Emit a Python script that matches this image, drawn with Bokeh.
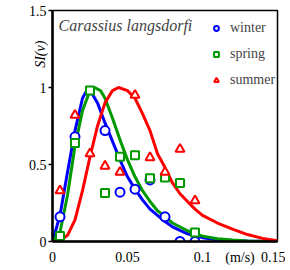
from bokeh.plotting import figure
from bokeh.models import Range1d, FixedTicker, Label, Legend, LegendItem
from bokeh.embed import file_html
from bokeh.resources import INLINE

# observed points (v in m/s)
v_obs = [0.005, 0.015, 0.025, 0.035, 0.045, 0.055, 0.065, 0.075, 0.085, 0.095]
winter_v = [0.005, 0.015, 0.035, 0.045, 0.055, 0.065, 0.075, 0.085, 0.095]
winter_si = [0.16, 0.68, 0.72, 0.32, 0.34, 0.40, 0.16, 0.0, 0.0]
spring_si = [0.035, 0.64, 0.98, 0.315, 0.55, 0.56, 0.41, 0.415, 0.38, 0.058]
summer_si = [0.33, 0.82, 0.57, 0.49, 0.45, 0.95, 0.545, 0.45, 0.60, 0.265]

# fitted curves
wc_v = [0, 0.005, 0.01, 0.015, 0.02, 0.024, 0.03, 0.035, 0.04, 0.045, 0.05, 0.055, 0.06,
        0.065, 0.07, 0.075, 0.08, 0.09, 0.1, 0.11, 0.12, 0.13, 0.15]
wc_si = [0, 0.17, 0.45, 0.72, 0.93, 1.0, 0.90, 0.77, 0.65, 0.53, 0.42, 0.34, 0.27,
         0.21, 0.17, 0.13, 0.095, 0.05, 0.025, 0.012, 0.006, 0.003, 0.0]
sc_v = [0, 0.005, 0.01, 0.015, 0.02, 0.025, 0.028, 0.032, 0.035, 0.04, 0.045, 0.05, 0.055,
        0.06, 0.065, 0.07, 0.075, 0.08, 0.09, 0.1, 0.11, 0.12, 0.13, 0.15]
sc_si = [0, 0.06, 0.30, 0.62, 0.85, 0.98, 1.0, 0.98, 0.93, 0.80, 0.66, 0.53, 0.42,
         0.33, 0.26, 0.20, 0.16, 0.12, 0.07, 0.035, 0.018, 0.009, 0.004, 0.0]
uc_v = [0, 0.005, 0.01, 0.015, 0.02, 0.025, 0.03, 0.035, 0.04, 0.044, 0.05, 0.055, 0.06,
        0.065, 0.07, 0.075, 0.08, 0.085, 0.09, 0.095, 0.1, 0.11, 0.12, 0.13, 0.14, 0.15]
uc_si = [0, 0.005, 0.04, 0.14, 0.33, 0.55, 0.75, 0.90, 0.98, 1.0, 0.98, 0.93, 0.83,
         0.72, 0.57, 0.48, 0.38, 0.31, 0.26, 0.21, 0.17, 0.12, 0.08, 0.045, 0.02, 0.005]

x_ticks = [0, 0.05, 0.1, 0.125, 0.15]
x_labels = {0: "0", 0.05: "0.05", 0.1: "0.1", 0.125: "(m/s)", 0.15: "0.15"}
y_ticks = [0, 0.5, 1, 1.5]
y_labels = {0: "0", 0.5: "0.5", 1: "1", 1.5: "1.5"}
y_title = "SI(v)"

BLUE = "#0000ff"
GREEN = "#009900"
RED = "#ff0000"
SERIF = "Liberation Serif"

p = figure(width=285, height=267, output_backend="svg", toolbar_location=None,
           x_range=Range1d(0, 0.15), y_range=Range1d(0, 1.5),
           min_border_left=52, min_border_right=8, min_border_top=10, min_border_bottom=24)
p.xgrid.visible = False
p.ygrid.visible = False
p.outline_line_color = "black"
p.outline_line_width = 1.5

for ax in (p.xaxis[0], p.yaxis[0]):
    ax.axis_line_width = 2.5
    ax.major_tick_in = 0
    ax.major_tick_line_width = 1.5
    ax.minor_tick_line_color = None
    ax.major_label_text_font = SERIF
    ax.major_label_text_font_size = "14px"
    ax.major_label_text_color = "black"
p.xaxis[0].ticker = FixedTicker(ticks=x_ticks)
p.xaxis[0].major_label_overrides = x_labels
p.xaxis[0].major_tick_out = 0
p.xaxis[0].major_label_standoff = 8
yax = p.yaxis[0]
yax.ticker = FixedTicker(ticks=y_ticks)
yax.major_label_overrides = y_labels
yax.major_tick_out = 4
yax.major_label_standoff = 2
# trailing no-break spaces push the rotated title down from the top end
yax.axis_label = y_title + "\u00a0" * 25
yax.axis_label_text_font = SERIF
yax.axis_label_text_font_style = "italic"
yax.axis_label_text_font_size = "14px"
yax.axis_label_text_color = "black"
yax.axis_label_standoff = -22
yax.axis_label_align = "end"

p.line(wc_v, wc_si, line_color=BLUE, line_width=3)
p.line(sc_v, sc_si, line_color=GREEN, line_width=3)
p.line(uc_v, uc_si, line_color=RED, line_width=3)

rw = p.scatter(winter_v, winter_si, marker="circle", size=9, line_color=BLUE,
               fill_color="white", line_width=2)
rs = p.scatter(v_obs, spring_si, marker="square", size=8, line_color=GREEN,
               fill_color="white", line_width=2)
ru = p.scatter(v_obs, summer_si, marker="triangle", size=9, line_color=RED,
               fill_color="white", line_width=2)

legend = Legend(items=[LegendItem(label="winter", renderers=[rw]),
                       LegendItem(label="spring", renderers=[rs]),
                       LegendItem(label="summer", renderers=[ru])],
                location=(158, 153), padding=0, margin=0, spacing=9,
                glyph_width=12, glyph_height=12, label_height=17, label_standoff=8,
                label_text_font=SERIF, label_text_font_size="14px",
                background_fill_alpha=0, border_line_alpha=0)
p.add_layout(legend)

p.add_layout(Label(x=0.004, y=1.40, text="Carassius langsdorfi", text_font=SERIF,
                   text_font_style="italic", text_font_size="16px",
                   text_baseline="middle", text_align="left"))

open("out.html", "w").write(file_html(p, INLINE))
